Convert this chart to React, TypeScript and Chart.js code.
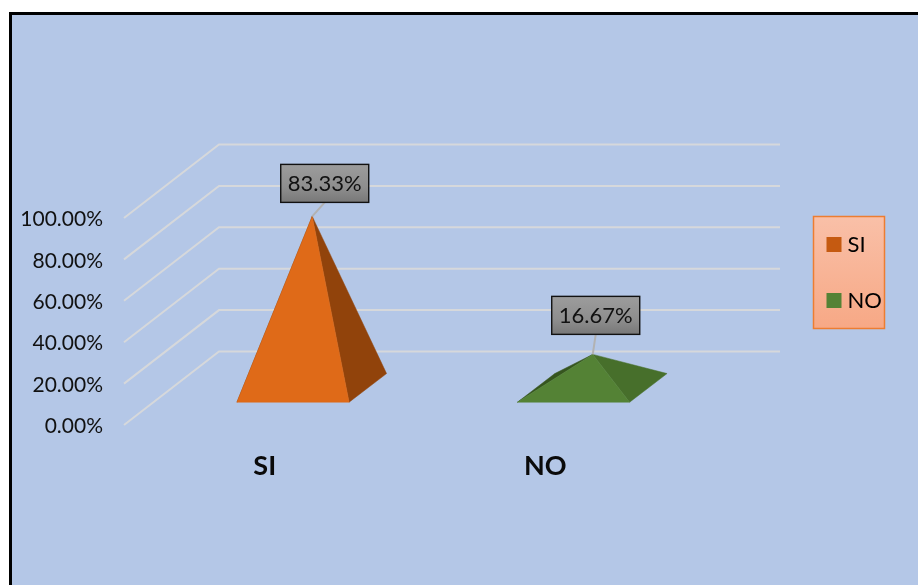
import React, { useEffect, useRef } from "react";
import { Chart, registerables } from "chart.js";

Chart.register(...registerables);

const categories = ["SI", "NO"];
const shares = [0.8333, 0.1667];
const shareLabels = ["83.33%", "16.67%"];
const frontColors = ["#DF6A18", "#548235"];
const rightColors = ["#91430B", "#476F2B"];
const leftColors = ["#7A3809", "#36551F"];
const legendColors = ["#C55A11", "#548235"];
const calloutShift = [
  [12.5, -33],
  [3, -39],
];

const FONT = "Lato, 'Open Sans', sans-serif";
const DEPTH_X = 96;
const DEPTH_Y = -73.5;
const BASE_FRONT = 0.31;
const BASE_BACK = 0.7;
const APEX_DROP = 1;

// Back wall, floor and wall lines of the 3D box, one per value tick.
const wallGrid = {
  id: "wallGrid",
  beforeDatasetsDraw(chart: any) {
    const { ctx, scales, chartArea } = chart;
    ctx.save();
    ctx.strokeStyle = "#D6D8DB";
    ctx.lineWidth = 2;
    ctx.lineJoin = "miter";
    scales.y.ticks.forEach((t: any) => {
      const y = scales.y.getPixelForValue(t.value);
      ctx.beginPath();
      ctx.moveTo(chartArea.left + 1, y);
      ctx.lineTo(chartArea.left + DEPTH_X, y + DEPTH_Y);
      ctx.lineTo(chartArea.right + DEPTH_X, y + DEPTH_Y);
      ctx.stroke();
    });
    ctx.restore();
  },
};

// Page backdrop, frame and the legend panel.
const framePanel = {
  id: "framePanel",
  beforeDraw(chart: any) {
    const { ctx, width, height } = chart;
    ctx.save();
    ctx.fillStyle = "#FFFFFF";
    ctx.fillRect(0, 0, width, height);
    ctx.fillStyle = "#000000";
    ctx.fillRect(9, 12, width - 9, height - 12);
    ctx.fillStyle = "#B4C7E7";
    ctx.fillRect(12, 15, width - 12, height - 15);

    const g = ctx.createLinearGradient(0, 216, 0, 329);
    g.addColorStop(0, "#F9C0A8");
    g.addColorStop(1, "#F7A885");
    ctx.fillStyle = g;
    ctx.fillRect(813.5, 216.5, 71, 112);
    ctx.strokeStyle = "#ED7D31";
    ctx.lineWidth = 1.5;
    ctx.strokeRect(813.5, 216.5, 71, 112);
    ctx.restore();
  },
};

// Keeps the legend beside the box instead of inside it.
const legendPlacement = {
  id: "legendPlacement",
  afterLayout(chart: any) {
    const legend = chart.legend;
    const w = legend.width;
    const h = legend.height;
    legend.left = 797.5;
    legend.right = 797.5 + w;
    legend.top = 199.5;
    legend.bottom = 199.5 + h;
  },
};

// Square pyramids whose height comes from the bar elements' value pixels.
const pyramids = {
  id: "pyramids",
  afterDatasetsDraw(chart: any) {
    const { ctx } = chart;
    const bars = chart.getDatasetMeta(0).data;
    ctx.save();
    bars.forEach((bar: any, i: number) => {
      const half = bar.width / 2;
      const floorY = bar.base;
      const at = (side: number, depth: number) => ({
        x: bar.x + side * half + DEPTH_X * depth,
        y: floorY + DEPTH_Y * depth,
      });
      const fl = at(-1, BASE_FRONT);
      const fr = at(1, BASE_FRONT);
      const bl = at(-1, BASE_BACK);
      const br = at(1, BASE_BACK);
      const centre = at(0, (BASE_FRONT + BASE_BACK) / 2);
      const apex = { x: centre.x + 0.5, y: centre.y + (bar.y - bar.base) + APEX_DROP };

      const face = (pts: any[], color: string) => {
        ctx.beginPath();
        pts.forEach((p, k) => (k ? ctx.lineTo(p.x, p.y) : ctx.moveTo(p.x, p.y)));
        ctx.closePath();
        ctx.fillStyle = color;
        ctx.strokeStyle = color;
        ctx.lineWidth = 0.5;
        ctx.fill();
        ctx.stroke();
      };
      face([fl, bl, apex], leftColors[i]);
      face([fr, br, apex], rightColors[i]);
      face([fl, fr, apex], frontColors[i]);

      // Value callout with its leader line.
      const cx = apex.x + calloutShift[i][0];
      const cy = apex.y + calloutShift[i][1];
      const bw = 88;
      const bh = 38;
      ctx.beginPath();
      ctx.moveTo(apex.x, apex.y);
      ctx.lineTo(cx, cy + bh / 2);
      ctx.strokeStyle = "#B2B2B2";
      ctx.lineWidth = 2;
      ctx.stroke();

      const g = ctx.createLinearGradient(0, cy - bh / 2, 0, cy + bh / 2);
      g.addColorStop(0, "#9C9C9C");
      g.addColorStop(0.6, "#8E8E8E");
      g.addColorStop(1, "#787878");
      ctx.fillStyle = g;
      ctx.fillRect(cx - bw / 2, cy - bh / 2, bw, bh);
      ctx.strokeStyle = "#111111";
      ctx.lineWidth = 1.4;
      ctx.strokeRect(cx - bw / 2, cy - bh / 2, bw, bh);

      ctx.fillStyle = "#111111";
      ctx.font = `22px ${FONT}`;
      ctx.textAlign = "center";
      ctx.textBaseline = "middle";
      ctx.fillText(shareLabels[i], cx, cy + 1);
    });
    ctx.restore();
  },
};

export default function App() {
  const ref = useRef<HTMLCanvasElement>(null);

  useEffect(() => {
    const chart = new Chart(ref.current as HTMLCanvasElement, {
      type: "bar",
      data: {
        labels: categories,
        datasets: [
          {
            label: "Respuestas",
            data: shares,
            backgroundColor: "rgba(0,0,0,0)",
            borderWidth: 0,
            categoryPercentage: 1,
            barPercentage: 0.4,
          },
        ],
      },
      options: {
        responsive: false,
        animation: false,
        layout: { padding: { top: 218, right: 234, left: 0, bottom: 0 } },
        plugins: {
          tooltip: { enabled: false },
          legend: {
            position: "chartArea",
            align: "start",
            onClick: () => {},
            labels: {
              boxWidth: 5,
              boxHeight: 5,
              padding: 34,
              color: "#111111",
              font: { family: FONT, size: 22 },
              generateLabels: () =>
                categories.map((text, index) => ({
                  text,
                  index,
                  fillStyle: legendColors[index],
                  strokeStyle: legendColors[index],
                  lineWidth: 10,
                  hidden: false,
                })),
            },
          },
        },
        scales: {
          x: {
            grid: { display: false, drawTicks: false },
            border: { display: false },
            afterFit: (s: any) => {
              s.height = 160;
            },
            ticks: {
              padding: 25,
              labelOffset: 1.5,
              maxRotation: 0,
              color: "#0A0A0A",
              font: { family: FONT, size: 27, weight: "bold" },
            },
          },
          y: {
            min: 0,
            max: 1,
            grid: { display: false, drawTicks: false },
            border: { display: false },
            afterFit: (s: any) => {
              s.width = 123;
            },
            ticks: {
              stepSize: 0.2,
              padding: 20,
              labelOffset: 1.5,
              color: "#111111",
              font: { family: FONT, size: 21 },
              callback: (v: any) => `${(Number(v) * 100).toFixed(2)}%`,
            },
          },
        },
      },
      plugins: [framePanel, legendPlacement, wallGrid, pyramids],
    } as any);
    return () => chart.destroy();
  }, []);

  return (
    <div style={{ position: "fixed", left: 0, top: 0, width: 918, height: 585 }}>
      <canvas ref={ref} width={918} height={585} style={{ display: "block" }} />
    </div>
  );
}
